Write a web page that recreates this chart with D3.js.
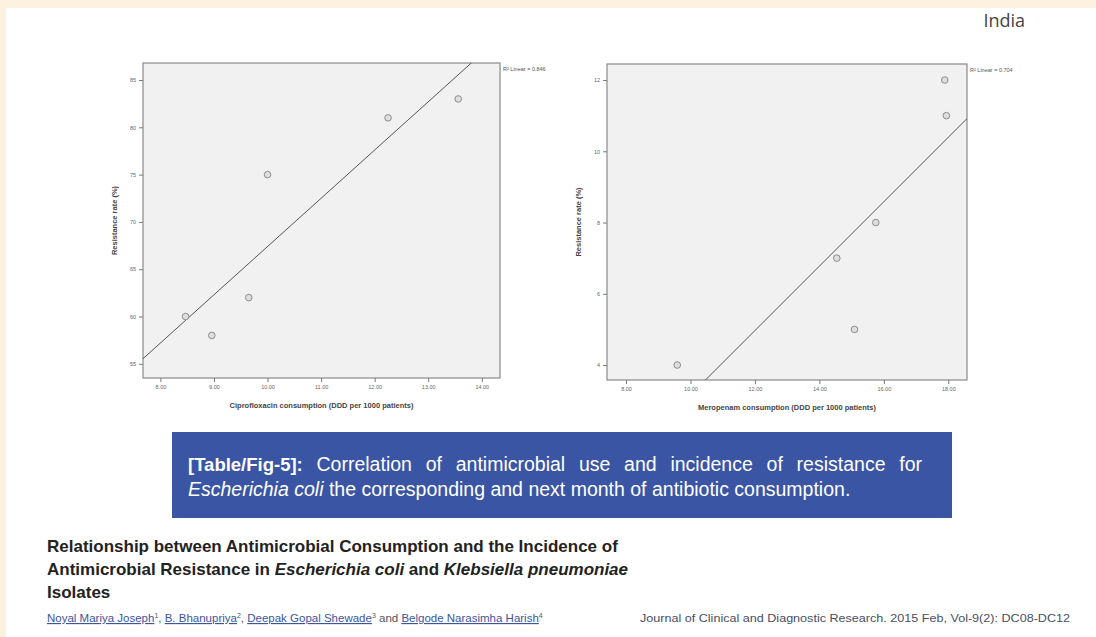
<!DOCTYPE html>
<html>
<head>
<meta charset="utf-8">
<script src="https://cdn.jsdelivr.net/npm/d3@7"></script>
<style>
  html, body { margin: 0; padding: 0; background: #fff; }
  svg { display: block; }
</style>
</head>
<body>
<div id="fig"></div>
<script>
// --- data ---
const ciproX = [8.47, 8.96, 9.65, 10.0, 12.25, 13.56];
const ciproY = [60, 58, 62, 75, 81, 83];
const ciproFit = {slope: 5.10, intercept: 16.4};
const ciproXTicks = [8, 9, 10, 11, 12, 13, 14];
const ciproYTicks = [55, 60, 65, 70, 75, 80, 85];
const ciproR2 = 'R\u00b2 Linear = 0.846';

const meroX = [9.59, 14.54, 15.09, 15.75, 17.89, 17.94];
const meroY = [4, 7, 5, 8, 12, 11];
const meroFit = {slope: 0.904, intercept: -5.88};
const meroXTicks = [8, 10, 12, 14, 16, 18];
const meroYTicks = [4, 6, 8, 10, 12];
const meroR2 = 'R\u00b2 Linear = 0.704';

const W = 1096, H = 637;

const svg = d3.select('#fig').append('svg')
  .attr('width', W).attr('height', H)
  .style('font-family', '"Liberation Sans", Arial, sans-serif');

// page frame (peach strip top / left)
svg.append('rect').attr('x', 0).attr('y', 0).attr('width', W).attr('height', 8).attr('fill', '#fdf1df');
svg.append('rect').attr('x', 0).attr('y', 0).attr('width', 6).attr('height', H).attr('fill', '#fdf1df');

svg.append('text')
  .attr('x', 1025).attr('y', 27)
  .attr('text-anchor', 'end')
  .style('font-family', '"Open Sans", "Noto Sans", sans-serif')
  .style('font-size', '18px')
  .style('fill', '#444')
  .text('India');

function drawScatter(opt) {
  const g = svg.append('g');
  const x = d3.scaleLinear().domain(opt.xDomain).range([opt.left, opt.right]);
  const y = d3.scaleLinear().domain(opt.yDomain).range([opt.bottom, opt.top]);

  // plot box
  g.append('rect')
    .attr('x', opt.left).attr('y', opt.top)
    .attr('width', opt.right - opt.left).attr('height', opt.bottom - opt.top)
    .attr('fill', '#f1f1f1').attr('stroke', '#8a8a8a').attr('stroke-width', 1.2);

  // axes
  const xa = g.append('g')
    .attr('transform', 'translate(0,' + opt.bottom + ')')
    .call(d3.axisBottom(x).tickValues(opt.xTicks).tickSize(4).tickFormat(d3.format('.2f')));
  const ya = g.append('g')
    .attr('transform', 'translate(' + opt.left + ',0)')
    .call(d3.axisLeft(y).tickValues(opt.yTicks).tickSize(4).tickFormat(d3.format('d')));
  [xa, ya].forEach(a => {
    a.select('.domain').remove();
    a.selectAll('line').attr('stroke', '#777');
    a.selectAll('text').style('font-size', '5.5px').style('fill', '#666');
  });

  // clip
  const clipId = 'clip-' + opt.name;
  g.append('clipPath').attr('id', clipId)
    .append('rect')
    .attr('x', opt.left).attr('y', opt.top)
    .attr('width', opt.right - opt.left).attr('height', opt.bottom - opt.top);

  // fit line
  const fx = opt.xDomain;
  g.append('line')
    .attr('clip-path', 'url(#' + clipId + ')')
    .attr('x1', x(fx[0])).attr('y1', y(opt.fit.slope * fx[0] + opt.fit.intercept))
    .attr('x2', x(fx[1])).attr('y2', y(opt.fit.slope * fx[1] + opt.fit.intercept))
    .attr('stroke', '#555').attr('stroke-width', 1);

  // points
  g.selectAll('circle.pt')
    .data(opt.xs.map((v, i) => ({x: v, y: opt.ys[i]})))
    .join('circle')
    .attr('class', 'pt')
    .attr('cx', d => x(d.x)).attr('cy', d => y(d.y))
    .attr('r', 3.3)
    .attr('fill', '#dedede').attr('stroke', '#8c8c8c').attr('stroke-width', 1);

  // R2 label
  g.append('text')
    .attr('x', opt.right + 3).attr('y', opt.top + 8)
    .style('font-size', '5.5px').style('fill', '#555')
    .text(opt.r2);

  // axis titles
  g.append('text')
    .attr('x', (opt.left + opt.right) / 2).attr('y', opt.bottom + 30)
    .attr('text-anchor', 'middle')
    .style('font-size', '7.5px').style('font-weight', 'bold').style('fill', '#444')
    .text(opt.xTitle);
  g.append('text')
    .attr('transform', 'translate(' + (opt.left - 26) + ',' + ((opt.top + opt.bottom) / 2) + ') rotate(-90)')
    .attr('text-anchor', 'middle')
    .style('font-size', '7.5px').style('font-weight', 'bold').style('fill', '#444')
    .text('Resistance rate (%)');
}

drawScatter({
  name: 'cipro', left: 143, right: 500, top: 63, bottom: 378,
  xDomain: [7.675, 14.34], yDomain: [53.5, 86.8],
  xTicks: ciproXTicks, yTicks: ciproYTicks,
  xs: ciproX, ys: ciproY, fit: ciproFit, r2: ciproR2,
  xTitle: 'Ciprofloxacin consumption (DDD per 1000 patients)'
});

drawScatter({
  name: 'mero', left: 607, right: 967, top: 64, bottom: 380,
  xDomain: [7.41, 18.58], yDomain: [3.58, 12.45],
  xTicks: meroXTicks, yTicks: meroYTicks,
  xs: meroX, ys: meroY, fit: meroFit, r2: meroR2,
  xTitle: 'Meropenam consumption (DDD per 1000 patients)'
});

// caption box
svg.append('rect')
  .attr('x', 172).attr('y', 432).attr('width', 780).attr('height', 86)
  .attr('fill', '#3a55a4');

const cap = svg.append('text')
  .style('font-family', '"Liberation Sans", Arial, sans-serif')
  .style('font-size', '19.5px').style('fill', '#fff');
const l1 = cap.append('tspan').attr('x', 188).attr('y', 471);
l1.append('tspan').style('font-weight', 'bold').style('font-size', '18.5px').text('[Table/Fig-5]:');
const l1b = l1.append('tspan').text(' Correlation of antimicrobial use and incidence of resistance for');
const l2 = cap.append('tspan').attr('x', 188).attr('y', 496);
l2.append('tspan').style('font-style', 'italic').text('Escherichia coli');
l2.append('tspan').text(' the corresponding and next month of antibiotic consumption.');

// justify first caption line by word spacing
{
  const target = 922 - 188;
  const cur = l1.node().getComputedTextLength();
  const gaps = l1b.text().split(' ').length - 1;
  if (cur < target && gaps > 0) l1b.style('word-spacing', ((target - cur) / gaps) + 'px');
}

// article title
const title = svg.append('text')
  .style('font-size', '17px').style('font-weight', 'bold').style('fill', '#222');
title.append('tspan').attr('x', 47).attr('y', 552)
  .text('Relationship between Antimicrobial Consumption and the Incidence of');
const t2 = title.append('tspan').attr('x', 47).attr('y', 575);
t2.append('tspan').text('Antimicrobial Resistance in ');
t2.append('tspan').style('font-style', 'italic').text('Escherichia coli');
t2.append('tspan').text(' and ');
t2.append('tspan').style('font-style', 'italic').text('Klebsiella pneumoniae');
title.append('tspan').attr('x', 47).attr('y', 598).text('Isolates');

// authors
const authors = [
  ['Noyal Mariya Joseph', '1'],
  ['B. Bhanupriya', '2'],
  ['Deepak Gopal Shewade', '3'],
  ['Belgode Narasimha Harish', '4']
];
const au = svg.append('text').attr('x', 47).attr('y', 622)
  .style('font-size', '11.5px').style('fill', '#3b55a0');
authors.forEach((a, i) => {
  au.append('tspan').style('text-decoration', 'underline').text(a[0]);
  au.append('tspan').attr('dy', -4).style('font-size', '7px').style('fill', '#555').text(a[1]);
  const sep = i < authors.length - 2 ? ', ' : (i === authors.length - 2 ? ' and ' : '');
  au.append('tspan').attr('dy', 4).style('fill', '#555').text(sep);
});

svg.append('text')
  .attr('x', 640).attr('y', 622)
  .attr('textLength', 430).attr('lengthAdjust', 'spacingAndGlyphs')
  .style('font-size', '11.5px').style('fill', '#4a4f63')
  .text('Journal of Clinical and Diagnostic Research. 2015 Feb, Vol-9(2): DC08-DC12');
</script>
</body>
</html>
